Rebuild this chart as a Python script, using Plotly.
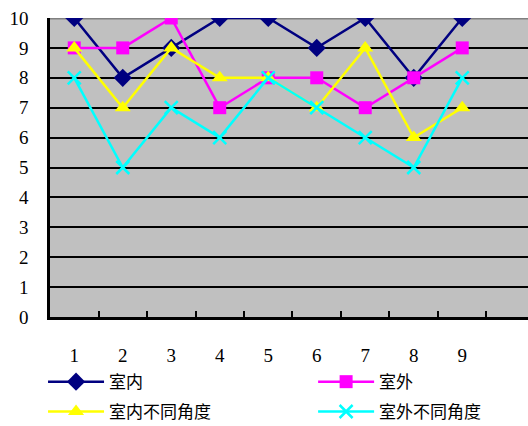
import plotly.graph_objects as go

# Scores for each of the nine samples, four viewing conditions
samples = ["1", "2", "3", "4", "5", "6", "7", "8", "9"]
indoor = [10, 8, 9, 10, 10, 9, 10, 8, 10]
outdoor = [9, 9, 10, 7, 8, 8, 7, 8, 9]
indoor_angles = [9, 7, 9, 8, 8, 7, 9, 6, 7]
outdoor_angles = [8, 5, 7, 6, 8, 7, 6, 5, 8]
series_names = ["室内", "室外", "室内不同角度", "室外不同角度"]
y_ticks = list(range(0, 11))

styles = [
    dict(color="#000080", symbol="diamond", size=14, lw=2.5),
    dict(color="#FF00FF", symbol="square", size=13, lw=2.5),
    dict(color="#FFFF00", symbol="triangle-up", size=14, lw=2.5),
    dict(color="#00FFFF", symbol="x-thin", size=13, lw=2.5),
]
# one legend box per entry, laid out as a 2x2 grid under the axis
legend_ids = ["legend", "legend2", "legend3", "legend4"]
legend_pos = [(0.0815, 0.103), (0.593, 0.103), (0.0815, 0.033), (0.593, 0.033)]

fig = go.Figure()
for name, vals, st, lid in zip(series_names, [indoor, outdoor, indoor_angles, outdoor_angles], styles, legend_ids):
    marker = dict(symbol=st["symbol"], size=st["size"], color=st["color"])
    if st["symbol"] == "x-thin":
        marker["line"] = dict(color=st["color"], width=2.5)
    fig.add_trace(go.Scatter(
        x=samples, y=vals, name=name, mode="lines+markers",
        line=dict(color=st["color"], width=st["lw"]),
        marker=marker, legend=lid,
    ))

# extra empty category slot on the right of the axis
cats = samples + [" "]

legend_common = dict(
    orientation="h", xanchor="left", yanchor="middle",
    xref="container", yref="container",
    font=dict(family="Noto Sans CJK SC", size=17, color="black"),
    itemwidth=56, bgcolor="rgba(0,0,0,0)",
)
legends = {lid: dict(legend_common, x=px, y=py) for lid, (px, py) in zip(legend_ids, legend_pos)}

fig.update_layout(
    width=528, height=426,
    margin=dict(l=50, r=0, t=18, b=109, autoexpand=False),
    paper_bgcolor="white",
    plot_bgcolor="#C0C0C0",
    font=dict(family="Liberation Serif", size=19, color="black"),
    showlegend=True,
    xaxis=dict(
        type="category", categoryorder="array", categoryarray=cats,
        range=[-0.5, 9.356], tickson="boundaries",
        ticks="inside", ticklen=6, tickwidth=2, tickcolor="black",
        showgrid=False, showline=True, linecolor="black", linewidth=2.5,
        ticklabelstandoff=19, zeroline=False,
    ),
    yaxis=dict(
        range=[0, 10], tickvals=y_ticks, ticks="",
        showgrid=True, gridcolor="black", gridwidth=2,
        showline=True, linecolor="black", linewidth=2.5, zeroline=False,
        ticklabelstandoff=15,
    ),
    **legends,
)

# grey top border of the plotting area
fig.add_shape(type="line", xref="paper", yref="y", x0=0, x1=1, y0=10, y1=10,
              line=dict(color="#808080", width=3), layer="between")

fig.write_html("out.html")
